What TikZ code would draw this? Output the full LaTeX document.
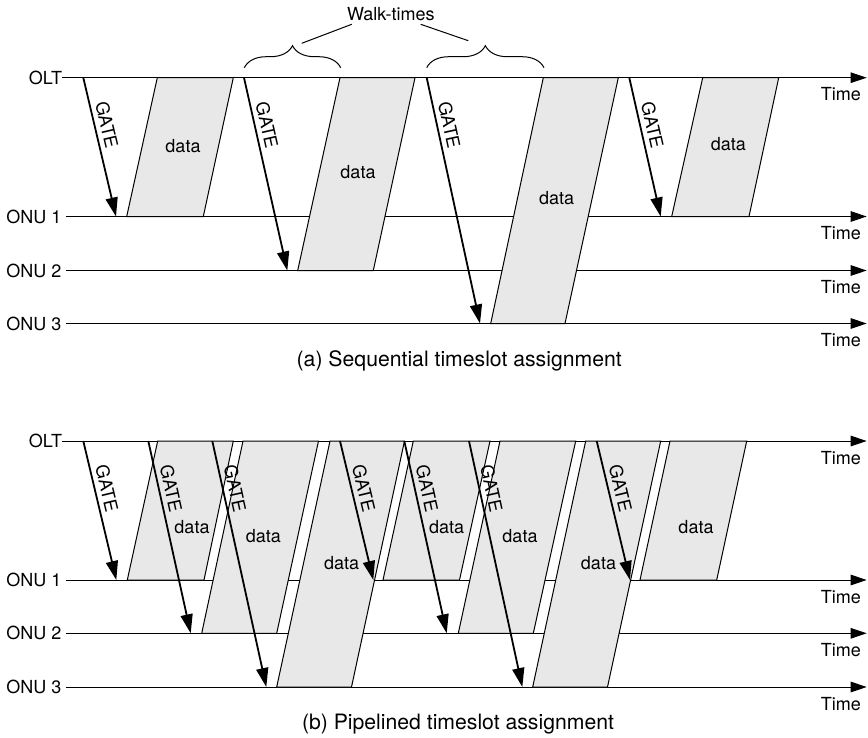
\documentclass[tikz,border=0pt]{standalone}
\usepackage{fontspec}
\setmainfont{TeX Gyre Heros}
\usetikzlibrary{arrows.meta,decorations.pathreplacing}
\definecolor{datafill}{RGB}{232,232,232}
\begin{document}
\begin{tikzpicture}[x=1pt,y=-1pt,
  lbl/.style={font=\fontsize{18}{20}\selectfont, inner sep=0pt},
  caption/.style={font=\fontsize{21.2}{24}\selectfont, inner sep=0pt, anchor=base},
  timeline/.style={line width=1pt, -{Triangle[length=16pt,width=10.5pt]}},
  datashape/.style={fill=datafill, draw=black, line width=1pt, line join=miter},
  gate/.style={line width=1.8pt, -{Triangle[length=19pt,width=12pt]}},
  gatelabel/.style={lbl, sloped, anchor=south, inner sep=4.3pt},
  timelbl/.style={lbl, anchor=base east},
  datalbl/.style={lbl},
  leader/.style={line width=1pt},
  wbrace/.style={decorate, decoration={brace, amplitude=22pt}, line width=1pt},
]
\useasboundingbox (0,0) rectangle (868,737);

% ---------- (a) sequential ----------
% time axes
\node[lbl, anchor=east] (oltA) at (62.3,77.7) {OLT};
\node[lbl, anchor=east, inner xsep=4pt] (onuA1) at (65.7,216.5) {ONU 1};
\node[lbl, anchor=east, inner xsep=4pt] (onuA2) at (65.7,270.5) {ONU 2};
\node[lbl, anchor=east, inner xsep=4pt] (onuA3) at (65.7,323.5) {ONU 3};
\coordinate (endA0) at (866.7,77.7);
\coordinate (endA1) at (866.7,216.5);
\coordinate (endA2) at (866.7,270.5);
\coordinate (endA3) at (866.7,323.5);
\draw[timeline] (oltA.east) -- (endA0);
\draw[timeline] (onuA1.east) -- (endA1);
\draw[timeline] (onuA2.east) -- (endA2);
\draw[timeline] (onuA3.east) -- (endA3);
\node[timelbl] (timeA0) at (861,100.7) {Time};
\node[timelbl] (timeA1) at (861,239.5) {Time};
\node[timelbl] (timeA2) at (861,293.5) {Time};
\node[timelbl] (timeA3) at (861,346.5) {Time};

% upstream data slots
\draw[datashape] (126.7,216.5) -- (203.3,216.5) -- (233.3,77.7) -- (157.3,77.7) -- cycle;
\draw[datashape] (297.7,270.5) -- (373.3,270.5) -- (415,77.7) -- (340,77.7) -- cycle;
\draw[datashape] (490.7,323.5) -- (565,323.5) -- (618.3,77.7) -- (543.3,77.7) -- cycle;
\draw[datashape] (671.7,216.5) -- (749,216.5) -- (778.7,77.7) -- (702.7,77.7) -- cycle;

% GATE messages
\foreach \n/\xs/\ys/\xe/\ye/\p in {
  gA1/83.3/77.7/116/216.5/0.36,
  gA2/244/77.7/287.3/270.5/0.26,
  gA3/426.7/77.7/480/323.5/0.203,
  gA4/629.3/77.7/660.7/216.5/0.36}{
  \coordinate (\n s) at (\xs,\ys);
  \coordinate (\n e) at (\xe,\ye);
  \draw[gate] (\n s) -- node[gatelabel, pos=\p] {GATE} (\n e);
}

\node[datalbl] (dA1) at (183,145.7) {data};
\node[datalbl] (dA2) at (358,171.7) {data};
\node[datalbl] (dA3) at (556.7,197.7) {data};
\node[datalbl] (dA4) at (728.3,144) {data};

% walk-time braces
\coordinate (wb1s) at (244.3,67.7);
\coordinate (wb1e) at (340.7,67.7);
\coordinate (wb2s) at (426.7,67.7);
\coordinate (wb2e) at (544,67.7);
\draw[wbrace] (wb1s) -- (wb1e);
\draw[wbrace] (wb2s) -- (wb2e);
\node[lbl, anchor=base] (walk) at (390.8,20.7) {Walk-times};
\coordinate (wl1a) at (351.7,24.3);
\coordinate (wl1b) at (301.7,43.3);
\coordinate (wl2a) at (420.7,24.3);
\coordinate (wl2b) at (468.3,40.7);
\draw[leader] (wl1a) -- (wl1b);
\draw[leader] (wl2a) -- (wl2b);

\node[caption] (capA) at (459.2,366.7) {(a) Sequential timeslot assignment};

% ---------- (b) pipelined ----------
\node[lbl, anchor=east] (oltB) at (62.3,441) {OLT};
\node[lbl, anchor=east, inner xsep=4pt] (onuB1) at (65.7,580) {ONU 1};
\node[lbl, anchor=east, inner xsep=4pt] (onuB2) at (65.7,633.3) {ONU 2};
\node[lbl, anchor=east, inner xsep=4pt] (onuB3) at (65.7,687) {ONU 3};
\coordinate (endB0) at (866.7,441);
\coordinate (endB1) at (866.7,580);
\coordinate (endB2) at (866.7,633.3);
\coordinate (endB3) at (866.7,687);
\draw[timeline] (oltB.east) -- (endB0);
\draw[timeline] (onuB1.east) -- (endB1);
\draw[timeline] (onuB2.east) -- (endB2);
\draw[timeline] (onuB3.east) -- (endB3);
\node[timelbl] (timeB0) at (861,464) {Time};
\node[timelbl] (timeB1) at (861,603) {Time};
\node[timelbl] (timeB2) at (861,656.3) {Time};
\node[timelbl] (timeB3) at (861,710) {Time};

\draw[datashape] (127.3,580) -- (204,580) -- (233.3,441) -- (157.7,441) -- cycle;
\draw[datashape] (201.7,633.3) -- (276.7,633.3) -- (318.5,441) -- (243,441) -- cycle;
\draw[datashape] (276.7,687) -- (351.5,687) -- (404.5,441) -- (330,441) -- cycle;
\draw[datashape] (383,580) -- (459.5,580) -- (490,441) -- (413.3,441) -- cycle;
\draw[datashape] (458.3,633.3) -- (533.3,633.3) -- (575.7,441) -- (500,441) -- cycle;
\draw[datashape] (532.7,687) -- (607.5,687) -- (660.7,441) -- (585.7,441) -- cycle;
\draw[datashape] (640,580) -- (716.7,580) -- (746.7,441) -- (670,441) -- cycle;

\foreach \n/\xs/\ys/\xe/\ye/\p in {
  gB1/83.3/441/116.3/580/0.36,
  gB2/148.3/441/190.7/633.3/0.26,
  gB3/212.3/441/266.3/687/0.203,
  gB4/340/441/373.3/580/0.36,
  gB5/404.3/441/446.7/633.3/0.26,
  gB6/469/441/522.3/687/0.203,
  gB7/596.7/441/630/580/0.36}{
  \coordinate (\n s) at (\xs,\ys);
  \coordinate (\n e) at (\xe,\ye);
  \draw[gate] (\n s) -- node[gatelabel, pos=\p] {GATE} (\n e);
}

\node[datalbl] (dB1) at (192,527) {data};
\node[datalbl] (dB2) at (263.3,536) {data};
\node[datalbl] (dB3) at (341.7,563.5) {data};
\node[datalbl] (dB4) at (446.7,527) {data};
\node[datalbl] (dB5) at (520,536) {data};
\node[datalbl] (dB6) at (598.5,563.5) {data};
\node[datalbl] (dB7) at (696,527) {data};

\node[caption] (capB) at (458,729.5) {(b) Pipelined timeslot assignment};
\end{tikzpicture}
\end{document}
